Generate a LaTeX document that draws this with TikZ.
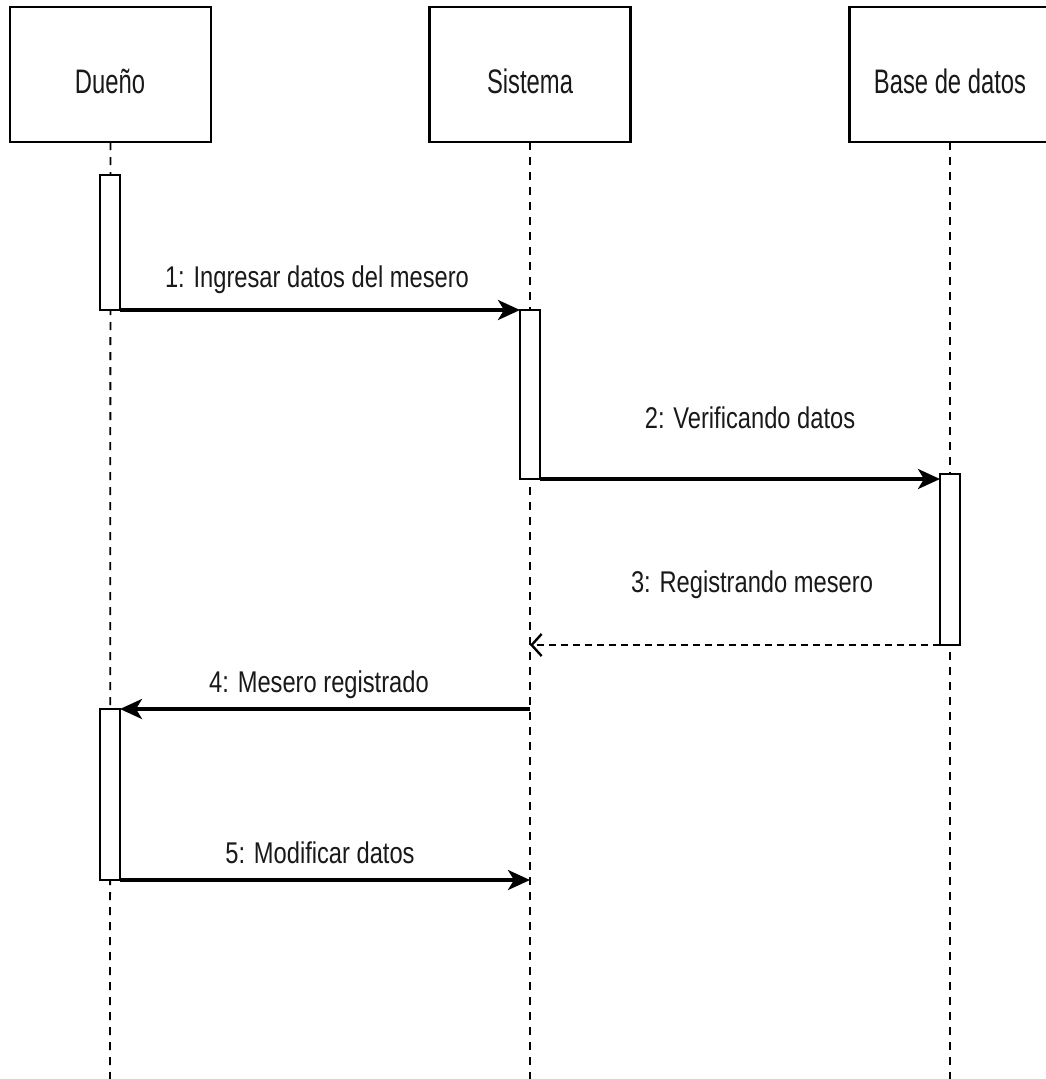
\documentclass[tikz,border=0pt]{standalone}
\usepackage{fontspec}
\newfontfamily\lblfont[FakeStretch=0.79]{Liberation Sans}
\newfontfamily\hdrfont[FakeStretch=0.70]{Liberation Sans}
\usetikzlibrary{arrows.meta}
\begin{document}
\begin{tikzpicture}[x=1pt,y=-1pt,
  actor/.style={draw,line width=2.8pt,fill=white,minimum width=201pt,minimum height=135pt,inner sep=0pt,outer sep=0pt},
  hdr/.style={font=\hdrfont\fontsize{34}{40}\selectfont,text=black!90,inner sep=0pt,anchor=base},
  life/.style={dash pattern=on 8pt off 7pt,line width=1.8pt},
  actbox/.style={draw,line width=2.6pt,fill=white,minimum width=20pt,inner sep=0pt,outer sep=0pt},
  msg/.style={line width=3.4pt,-{Stealth[length=22pt,width=20pt,inset=6pt]}},
  ret/.style={line width=2.6pt,dash pattern=on 7pt off 5pt,-{Straight Barb[length=10pt,width=22pt,line width=2.4pt]}},
  lbl/.style={font=\lblfont\fontsize{30}{36}\selectfont,text=black!90,inner sep=0pt,anchor=base}]
\path[use as bounding box] (0,0) rectangle (1046,1079);
\clip (0,0) rectangle (1046,1079);

% participants
\node[actor] (h1) at (110.5,74.5) {};
\node[actor] (h2) at (530,74.5) {};
\node[actor] (h3) at (950,74.5) {};
\node[hdr] (h1t) at (110,93) {Dueño};
\node[hdr] (h2t) at (530,93) {Sistema};
\node[hdr] (h3t) at (950,93) {Base de datos};

% lifeline ends
\coordinate (e1) at (110,1079);
\coordinate (e2) at (530,1079);
\coordinate (e3) at (950,1079);
\draw[life] (h1.south) -- (e1);
\draw[life] (h2.south) -- (e2);
\draw[life] (h3.south) -- (e3);

% activation bars
\node[actbox,minimum height=135pt] (a1) at (110,242.5) {};
\node[actbox,minimum height=169pt] (a2) at (530,394.5) {};
\node[actbox,minimum height=171pt] (a3) at (950,559.5) {};
\node[actbox,minimum height=171pt] (a4) at (110,794.5) {};

% messages
\draw[msg] (a1.south east) -- (a2.north west);
\draw[msg] (a2.south east) -- (a2.south east -| a3.west);
\draw[ret] (a3.south west) -- (a3.south west -| h2.south);
\coordinate (s4) at (530,709);
\draw[msg] (s4) -- (a4.north east);
\coordinate (t5) at (530,880);
\draw[msg] (a4.south east) -- (t5);

% message labels
\node[lbl] (m1) at (317,287) {1: Ingresar datos del mesero};
\node[lbl] (m2) at (750,428) {2: Verificando datos};
\node[lbl] (m3) at (752,592) {3: Registrando mesero};
\node[lbl] (m4) at (319,692) {4: Mesero registrado};
\node[lbl] (m5) at (320,863) {5: Modificar datos};
\end{tikzpicture}
\end{document}
